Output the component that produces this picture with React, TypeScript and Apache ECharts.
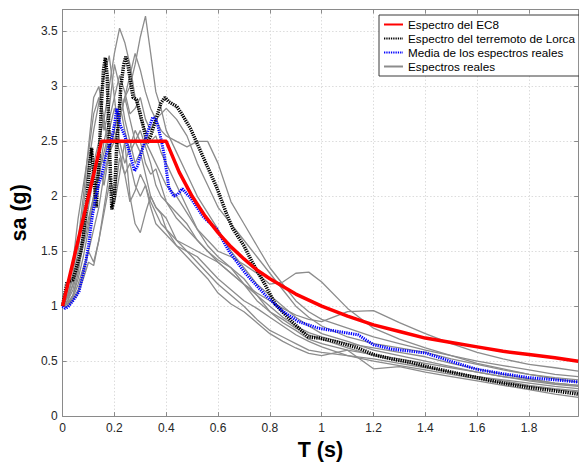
import React, { useEffect, useRef } from "react";
import * as echarts from "echarts";

// Periods (s) and spectral accelerations (g)
const ec8T = [0, 0.15, 0.4, 0.45, 0.5, 0.55, 0.6, 0.65, 0.7, 0.75, 0.8, 0.9, 1.0, 1.1, 1.2, 1.3, 1.4, 1.5, 1.6, 1.7, 1.8, 1.9, 1.99];
const ec8Sa = [1.0, 2.5, 2.5, 2.22, 2.0, 1.82, 1.67, 1.54, 1.43, 1.33, 1.25, 1.11, 1.0, 0.91, 0.83, 0.77, 0.71, 0.67, 0.63, 0.59, 0.56, 0.53, 0.5];

const lorcaT = [0, 0.017, 0.04, 0.056, 0.07, 0.08, 0.095, 0.105, 0.112, 0.12, 0.13, 0.14, 0.15, 0.158, 0.165, 0.172, 0.18, 0.19, 0.2, 0.21, 0.225, 0.236, 0.244, 0.252, 0.262, 0.272, 0.285, 0.3, 0.315, 0.326, 0.34, 0.36, 0.38, 0.395, 0.41, 0.424, 0.44, 0.46, 0.493, 0.544, 0.595, 0.633, 0.656, 0.7, 0.732, 0.783, 0.82, 0.885, 0.948, 0.99, 1.05, 1.14, 1.2, 1.27, 1.343, 1.4, 1.5, 1.6, 1.7, 1.8, 1.9, 1.99];
const lorcaSa = [1.0, 1.22, 1.24, 1.37, 1.5, 1.64, 2.0, 2.3, 2.44, 2.2, 1.9, 2.3, 2.85, 3.15, 3.26, 3.1, 2.5, 1.88, 2.0, 2.5, 3.0, 3.2, 3.27, 3.2, 3.05, 2.9, 2.88, 2.75, 2.6, 2.48, 2.55, 2.7, 2.85, 2.9, 2.86, 2.84, 2.82, 2.75, 2.62, 2.35, 2.08, 1.84, 1.71, 1.55, 1.4, 1.19, 1.02, 0.86, 0.72, 0.71, 0.68, 0.62, 0.56, 0.52, 0.49, 0.455, 0.4, 0.35, 0.3, 0.26, 0.23, 0.2];

const meanT = [0, 0.01, 0.02, 0.04, 0.063, 0.075, 0.089, 0.1, 0.114, 0.127, 0.139, 0.152, 0.165, 0.178, 0.19, 0.2, 0.209, 0.215, 0.222, 0.24, 0.26, 0.278, 0.29, 0.3, 0.315, 0.329, 0.348, 0.36, 0.367, 0.38, 0.392, 0.41, 0.43, 0.445, 0.462, 0.48, 0.493, 0.544, 0.595, 0.645, 0.709, 0.783, 0.846, 0.91, 0.987, 1.063, 1.14, 1.2, 1.27, 1.343, 1.4, 1.496, 1.6, 1.7, 1.8, 1.9, 1.99];
const meanSa = [1.0, 0.98, 0.99, 1.05, 1.13, 1.25, 1.4, 1.55, 1.81, 1.98, 2.11, 2.2, 2.35, 2.45, 2.53, 2.65, 2.8, 2.75, 2.65, 2.55, 2.38, 2.23, 2.28, 2.37, 2.48, 2.59, 2.72, 2.7, 2.65, 2.52, 2.38, 2.08, 2.0, 2.02, 2.07, 2.02, 1.99, 1.81, 1.7, 1.49, 1.29, 1.1, 0.96, 0.86, 0.8, 0.77, 0.74, 0.65, 0.61, 0.59, 0.575, 0.5, 0.425, 0.385, 0.35, 0.33, 0.31];

const realT = [0, 0.02, 0.04, 0.06, 0.08, 0.1, 0.12, 0.14, 0.16, 0.18, 0.2, 0.22, 0.24, 0.26, 0.28, 0.3, 0.32, 0.34, 0.36, 0.38, 0.4, 0.44, 0.48, 0.52, 0.56, 0.6, 0.65, 0.7, 0.75, 0.8, 0.85, 0.9, 0.95, 1.0, 1.1, 1.2, 1.3, 1.4, 1.5, 1.6, 1.7, 1.8, 1.9, 1.99];
const real1 = [1.0, 1.02, 1.1, 1.3, 1.6, 1.9, 2.2, 2.4, 2.3, 2.6, 2.8, 2.7, 2.9, 3.0, 3.2, 3.45, 3.64, 3.3, 2.95, 2.8, 2.6, 2.4, 2.2, 2.0, 1.85, 1.7, 1.5, 1.35, 1.2, 1.1, 1.0, 0.9, 0.82, 0.75, 0.68, 0.6, 0.55, 0.5, 0.45, 0.4, 0.36, 0.32, 0.29, 0.27];
const real2 = [1.0, 1.05, 1.15, 1.35, 1.7, 2.0, 2.3, 2.5, 2.7, 3.0, 3.3, 3.53, 3.4, 3.2, 2.9, 2.7, 2.6, 2.5, 2.55, 2.4, 2.3, 2.1, 1.9, 1.7, 1.55, 1.45, 1.35, 1.2, 1.05, 0.95, 0.88, 0.8, 0.74, 0.7, 0.62, 0.55, 0.5, 0.45, 0.4, 0.36, 0.33, 0.3, 0.27, 0.25];
const real3 = [1.0, 1.1, 1.25, 1.5, 1.9, 2.3, 2.6, 2.85, 3.1, 3.28, 2.9, 2.5, 2.3, 2.45, 2.6, 2.5, 2.3, 2.2, 2.25, 2.1, 1.95, 1.8, 1.7, 1.6, 1.5, 1.4, 1.3, 1.2, 1.1, 1.0, 0.9, 0.82, 0.76, 0.72, 0.66, 0.62, 0.58, 0.54, 0.48, 0.43, 0.38, 0.34, 0.3, 0.28];
const real4 = [1.0, 1.15, 1.4, 1.8, 2.1, 2.4, 2.75, 2.9, 2.6, 2.8, 3.2, 3.0, 2.7, 2.5, 2.3, 2.4, 2.2, 2.0, 1.9, 1.85, 1.8, 1.6, 1.5, 1.45, 1.35, 1.25, 1.15, 1.05, 0.98, 0.9, 0.82, 0.74, 0.68, 0.63, 0.55, 0.5, 0.46, 0.42, 0.38, 0.34, 0.3, 0.27, 0.24, 0.22];
const real5 = [1.0, 1.02, 1.08, 1.2, 1.35, 1.5, 1.4, 1.6, 1.85, 2.1, 1.93, 2.2, 2.5, 2.0, 1.75, 1.67, 1.85, 2.0, 1.9, 1.84, 1.7, 1.55, 1.45, 1.35, 1.25, 1.12, 1.02, 0.95, 0.85, 0.75, 0.68, 0.62, 0.57, 0.55, 0.6, 0.43, 0.45, 0.4, 0.36, 0.32, 0.28, 0.24, 0.2, 0.17];
const real6 = [1.0, 1.05, 1.2, 1.4, 1.6, 1.8, 2.0, 2.2, 2.5, 2.7, 2.9, 3.1, 2.95, 2.75, 2.8, 2.9, 2.7, 2.6, 2.7, 2.6, 2.55, 2.5, 2.45, 2.5, 2.5, 2.3, 1.95, 1.75, 1.55, 1.35, 1.2, 1.05, 0.95, 0.88, 0.8, 0.72, 0.66, 0.6, 0.55, 0.5, 0.46, 0.42, 0.38, 0.36];
const real7 = [1.0, 1.03, 1.1, 1.25, 1.45, 1.7, 1.95, 2.2, 2.4, 2.6, 2.5, 2.7, 2.9, 2.7, 2.5, 2.4, 2.5, 2.4, 2.3, 2.2, 2.1, 2.0, 1.85, 1.7, 1.6, 1.5, 1.45, 1.38, 1.3, 1.2, 1.22, 1.3, 1.31, 1.22, 0.98, 0.8, 0.7, 0.62, 0.55, 0.48, 0.43, 0.38, 0.34, 0.31];
const real8 = [1.0, 1.08, 1.2, 1.35, 1.55, 1.75, 2.0, 2.3, 2.1, 2.4, 2.6, 2.4, 2.2, 2.3, 2.1, 2.0, 2.1, 1.95, 1.85, 1.75, 1.7, 1.6, 1.55, 1.5, 1.45, 1.4, 1.3, 1.2, 1.12, 1.05, 0.98, 0.92, 0.88, 0.86, 0.95, 0.96, 0.85, 0.75, 0.66, 0.58, 0.52, 0.47, 0.44, 0.41];
const real9 = [1.0, 1.1, 1.3, 1.6, 2.0, 2.45, 2.9, 3.0, 2.7, 2.4, 2.6, 2.85, 2.6, 2.4, 2.5, 2.6, 2.45, 2.3, 2.1, 2.0, 1.95, 1.85, 1.75, 1.6, 1.5, 1.42, 1.35, 1.25, 1.1, 0.95, 0.85, 0.78, 0.7, 0.66, 0.6, 0.56, 0.52, 0.48, 0.44, 0.4, 0.36, 0.33, 0.3, 0.28];
const real10 = [1.0, 1.02, 1.06, 1.15, 1.3, 1.5, 1.7, 1.9, 2.2, 2.4, 2.5, 2.7, 2.9, 3.1, 3.3, 3.15, 2.95, 2.8, 2.7, 2.75, 2.8, 2.7, 2.55, 2.3, 2.1, 1.9, 1.75, 1.6, 1.45, 1.3, 1.15, 1.0, 0.9, 0.82, 0.72, 0.66, 0.62, 0.58, 0.52, 0.47, 0.42, 0.38, 0.35, 0.33];
const real11 = [1.0, 1.0, 1.05, 1.12, 1.25, 1.4, 1.37, 1.6, 1.9, 2.2, 2.0, 2.35, 2.2, 1.95, 2.05, 2.2, 2.1, 1.9, 1.75, 1.7, 1.65, 1.55, 1.5, 1.4, 1.3, 1.2, 1.1, 1.0, 0.88, 0.78, 0.72, 0.66, 0.6, 0.58, 0.55, 0.52, 0.48, 0.44, 0.4, 0.36, 0.32, 0.28, 0.25, 0.23];
const realSpectra = [real1, real2, real3, real4, real5, real6, real7, real8, real9, real10, real11];

const xTicks = [0, 0.2, 0.4, 0.6, 0.8, 1, 1.2, 1.4, 1.6, 1.8];
const yTicks = [0, 0.5, 1, 1.5, 2, 2.5, 3, 3.5];

const NAME_EC8 = "Espectro del EC8";
const NAME_LORCA = "Espectro del terremoto de Lorca";
const NAME_MEAN = "Media de los espectros reales";
const NAME_REAL = "Espectros reales";

const FONT = "Liberation Sans, Arial, Helvetica, sans-serif";

const zip = (t: number[], v: number[]) => t.map((x, i) => [x, v[i]]);

export default function App() {
  const ref = useRef<HTMLDivElement>(null);
  useEffect(() => {
    if (!ref.current) return;
    const chart = echarts.init(ref.current, null, { renderer: "svg" });
    const axisColor = "#8a8a8a";
    const labelColor = "#262626";
    const xCommon = {
      type: "value" as const,
      min: 0,
      max: 1.99,
      interval: 0.2,
    };
    const yCommon = {
      type: "value" as const,
      min: 0,
      max: 3.7,
      interval: 0.5,
    };
    const series: any[] = [];
    realSpectra.forEach((arr) => {
      series.push({
        name: NAME_REAL,
        type: "line",
        data: zip(realT, arr),
        showSymbol: false,
        symbol: "none",
        silent: true,
        lineStyle: { color: "#8c8c8c", width: 1.3 },
        itemStyle: { color: "#8c8c8c" },
      });
    });
    series.push({
      name: NAME_LORCA,
      type: "line",
      data: zip(lorcaT, lorcaSa),
      showSymbol: false,
      symbol: "none",
      silent: true,
      lineStyle: { color: "#000000", width: 3.5, type: [1.3, 1.0], cap: "butt" },
      itemStyle: { color: "#000000" },
    });
    series.push({
      name: NAME_MEAN,
      type: "line",
      data: zip(meanT, meanSa),
      showSymbol: false,
      symbol: "none",
      silent: true,
      lineStyle: { color: "#0000ff", width: 3, type: [1.3, 1.0], cap: "butt" },
      itemStyle: { color: "#0000ff" },
    });
    series.push({
      name: NAME_EC8,
      type: "line",
      data: zip(ec8T, ec8Sa),
      showSymbol: false,
      symbol: "none",
      silent: true,
      lineStyle: { color: "#ff0000", width: 3.5 },
      itemStyle: { color: "#ff0000" },
    });

    chart.setOption({
      animation: false,
      backgroundColor: "#ffffff",
      textStyle: { fontFamily: FONT },
      grid: { left: 58.5, top: 9.5, right: 0.8, bottom: 43.5, containLabel: false },
      legend: {
        data: [NAME_EC8, NAME_LORCA, NAME_MEAN, NAME_REAL],
        orient: "vertical",
        left: 379,
        top: 15,
        padding: [2.5, 4, 2.5, 4],
        itemGap: 0,
        itemWidth: 19,
        itemHeight: 14,
        backgroundColor: "#ffffff",
        borderColor: "#3a3a3a",
        borderWidth: 1,
        borderRadius: 0,
        selectedMode: false,
        itemStyle: { opacity: 0 },
        textStyle: { fontFamily: FONT, fontSize: 11.7, color: "#000", lineHeight: 14, padding: 0 },
      },
      xAxis: [
        {
          ...xCommon,
          position: "bottom",
          name: "T (s)",
          nameLocation: "middle",
          nameGap: 15,
          nameTextStyle: { fontFamily: FONT, fontSize: 21.5, fontWeight: "bold", color: "#000" },
          axisLine: { show: true, onZero: false, lineStyle: { color: axisColor, width: 1 } },
          axisTick: { show: true, inside: true, length: 4, lineStyle: { color: axisColor } },
          axisLabel: {
            show: true,
            margin: 6,
            fontSize: 12,
            color: labelColor,
            fontFamily: FONT,
            customValues: xTicks,
            formatter: (v: number) => String(+v.toFixed(1)),
          },
          splitLine: { show: true, lineStyle: { color: "#dcdcdc", width: 1, type: [1.5, 2] } },
        },
        {
          ...xCommon,
          position: "top",
          axisLine: { show: true, onZero: false, lineStyle: { color: axisColor, width: 1 } },
          axisTick: { show: true, inside: true, length: 4, lineStyle: { color: axisColor } },
          axisLabel: { show: false },
          splitLine: { show: false },
        },
      ],
      yAxis: [
        {
          ...yCommon,
          position: "left",
          name: "sa (g)",
          nameLocation: "middle",
          nameGap: 28,
          nameRotate: 90,
          nameTextStyle: { fontFamily: FONT, fontSize: 21.5, fontWeight: "bold", color: "#000" },
          axisLine: { show: true, onZero: false, lineStyle: { color: axisColor, width: 1 } },
          axisTick: { show: true, inside: true, length: 4, lineStyle: { color: axisColor } },
          axisLabel: {
            show: true,
            margin: 5,
            fontSize: 12,
            color: labelColor,
            fontFamily: FONT,
            customValues: yTicks,
            formatter: (v: number) => String(+v.toFixed(1)),
          },
          splitLine: { show: true, lineStyle: { color: "#dcdcdc", width: 1, type: [1.5, 2] } },
        },
        {
          ...yCommon,
          position: "right",
          axisLine: { show: true, onZero: false, lineStyle: { color: axisColor, width: 1 } },
          axisTick: { show: true, inside: true, length: 4, lineStyle: { color: axisColor } },
          axisLabel: { show: false },
          splitLine: { show: false },
        },
      ],
      series,
    });
    return () => chart.dispose();
  }, []);
  return (
    <div
      ref={ref}
      style={{ position: "fixed", left: 0, top: 0, width: 579, height: 466, background: "#fff" }}
    />
  );
}
